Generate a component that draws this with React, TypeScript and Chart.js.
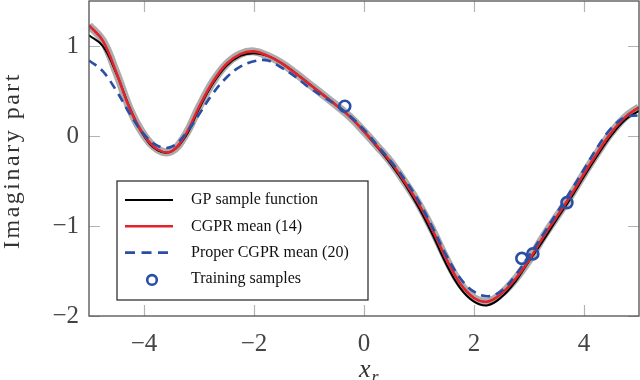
import React, { useEffect, useRef } from "react";
import { Chart, registerables } from "chart.js";

Chart.register(...registerables);

// ---- data ----
const xGrid = [
  -5, -4.75, -4.5, -4.25, -4, -3.75, -3.5, -3.25, -3, -2.75, -2.5, -2.25, -2, -1.75, -1.5, -1.25, -1, -0.75, -0.5, -0.25,
  0, 0.25, 0.5, 0.75, 1, 1.25, 1.5, 1.75, 2, 2.25, 2.5, 2.75, 3, 3.25, 3.5, 3.75, 4, 4.25, 4.5, 4.75, 5,
];
const gpSample = [
  1.12, 1.0, 0.69, 0.3, 0.0, -0.16, -0.17, -0.01, 0.3, 0.58, 0.78, 0.89, 0.92, 0.89, 0.81, 0.7, 0.58, 0.46, 0.34, 0.21,
  0.05, -0.13, -0.32, -0.54, -0.8, -1.1, -1.43, -1.69, -1.84, -1.88, -1.79, -1.62, -1.39, -1.17, -0.93, -0.7, -0.45, -0.21, 0.01, 0.18, 0.28,
];
const cgprMean = [
  1.23, 1.06, 0.7, 0.29, 0.01, -0.15, -0.17, 0.01, 0.32, 0.6, 0.8, 0.91, 0.94, 0.89, 0.81, 0.7, 0.58, 0.46, 0.34, 0.21,
  0.05, -0.12, -0.3, -0.52, -0.76, -1.05, -1.37, -1.64, -1.8, -1.84, -1.75, -1.59, -1.38, -1.13, -0.9, -0.67, -0.42, -0.18, 0.04, 0.21, 0.32,
];
const properMean = [
  0.84, 0.72, 0.5, 0.24, 0.02, -0.11, -0.12, 0.02, 0.24, 0.47, 0.65, 0.77, 0.83, 0.84, 0.76, 0.66, 0.54, 0.44, 0.34, 0.22,
  0.07, -0.11, -0.29, -0.49, -0.73, -1.02, -1.33, -1.58, -1.73, -1.78, -1.72, -1.55, -1.33, -1.1, -0.86, -0.62, -0.37, -0.12, 0.09, 0.21, 0.23,
];
const trainX = [-0.35, 2.87, 3.07, 3.69];
const trainY = [0.33, -1.36, -1.31, -0.74];

const xTickValues = [-4, -2, 0, 2, 4];
const yTickValues = [-2, -1, 0, 1];
const seriesLabels = ["GP sample function", "CGPR mean (14)", "Proper CGPR mean (20)", "Training samples"];
const yTitle = "Imaginary part";
const xTitleMain = "x";
const xTitleSub = "r";

// ---- styles ----
const SERIF = '"Liberation Serif", "Times New Roman", serif';
const RED = "#e3232b";
const BLUE = "#2a4ea6";
const BAND = "#acacac";

const fmt = (v: number) => (v < 0 ? "\u2212" + Math.abs(v) : String(v));
const pts = (ys: number[]) => xGrid.map((x, i) => ({ x, y: ys[i] }));

const decorPlugin = {
  id: "decor",
  beforeDatasetsDraw(chart: any) {
    const { ctx, chartArea: a, scales } = chart;
    ctx.save();
    ctx.strokeStyle = "#b4b4b4";
    ctx.lineWidth = 1.2;
    const L = 11;
    ctx.beginPath();
    xTickValues.forEach((v) => {
      const p = Math.round(scales.x.getPixelForValue(v)) + 0.5;
      ctx.moveTo(p, a.bottom);
      ctx.lineTo(p, a.bottom - L);
      ctx.moveTo(p, a.top);
      ctx.lineTo(p, a.top + L);
    });
    yTickValues.forEach((v) => {
      const p = Math.round(scales.y.getPixelForValue(v)) + 0.5;
      ctx.moveTo(a.left, p);
      ctx.lineTo(a.left + L, p);
      ctx.moveTo(a.right, p);
      ctx.lineTo(a.right - L, p);
    });
    ctx.stroke();
    ctx.restore();
  },
  afterDatasetsDraw(chart: any) {
    const { ctx, chartArea: a } = chart;
    ctx.save();
    ctx.strokeStyle = "#505050";
    ctx.lineWidth = 1.3;
    ctx.strokeRect(a.left, a.top, a.right - a.left, a.bottom - a.top);
    ctx.restore();
  },
  afterDraw(chart: any) {
    const { ctx, chartArea: a } = chart;
    ctx.save();
    // legend
    const boxL = a.left + 28;
    const boxT = a.top + 180;
    const boxW = 251;
    const boxH = 119;
    ctx.fillStyle = "#ffffff";
    ctx.fillRect(boxL, boxT, boxW, boxH);
    ctx.strokeStyle = "#222";
    ctx.lineWidth = 1.2;
    ctx.strokeRect(boxL, boxT, boxW, boxH);
    const dss = chart.data.datasets;
    seriesLabels.forEach((lab, i) => {
      const ds = dss.find((d: any) => d.label === lab);
      if (!ds) return;
      const y = boxT + 19 + i * 26.3;
      if (ds.showLine === false) {
        ctx.beginPath();
        ctx.setLineDash([]);
        ctx.strokeStyle = ds.pointBorderColor;
        ctx.lineWidth = ds.pointBorderWidth;
        ctx.arc(boxL + 35, y + 1, 4.8, 0, Math.PI * 2);
        ctx.stroke();
      } else {
        ctx.beginPath();
        ctx.setLineDash(ds.borderDash ? [10, 6.5] : []);
        ctx.strokeStyle = ds.borderColor;
        ctx.lineWidth = ds.borderWidth;
        ctx.moveTo(boxL + 8, y);
        ctx.lineTo(boxL + 56, y);
        ctx.stroke();
      }
      ctx.setLineDash([]);
      ctx.fillStyle = "#111";
      ctx.font = `16px ${SERIF}`;
      ctx.textAlign = "left";
      ctx.textBaseline = "middle";
      ctx.fillText(lab, boxL + 74, y);
    });
    // y title
    ctx.save();
    ctx.translate(13, (a.top + a.bottom) / 2 + 2);
    ctx.rotate(-Math.PI / 2);
    ctx.fillStyle = "#333";
    ctx.font = `24px ${SERIF}`;
    (ctx as any).letterSpacing = "2.5px";
    ctx.textAlign = "center";
    ctx.textBaseline = "middle";
    ctx.fillText(yTitle, 0, 0);
    ctx.restore();
    // x title
    ctx.fillStyle = "#333";
    ctx.textAlign = "left";
    ctx.textBaseline = "alphabetic";
    ctx.font = `italic 26px ${SERIF}`;
    const cx = (a.left + a.right) / 2;
    ctx.fillText(xTitleMain, cx - 5, 377);
    const w = ctx.measureText(xTitleMain).width;
    ctx.font = `italic 18px ${SERIF}`;
    ctx.fillText(xTitleSub, cx - 5 + w + 1, 383);
    ctx.restore();
  },
};

export default function App() {
  const ref = useRef<HTMLCanvasElement>(null);
  useEffect(() => {
    document.body.style.margin = "0";
    if (!ref.current) return;
    const lineCommon = { pointRadius: 0, tension: 0.4 };
    const chart = new Chart(ref.current, {
      type: "line",
      data: {
        datasets: [
          {
            label: seriesLabels[3],
            data: trainX.map((x, i) => ({ x, y: trainY[i] })),
            showLine: false,
            pointRadius: 5.5,
            pointBorderWidth: 2.6,
            pointBorderColor: BLUE,
            pointBackgroundColor: "rgba(255,255,255,0)",
            borderColor: BLUE,
          },
          {
            label: seriesLabels[2],
            data: pts(properMean),
            borderColor: BLUE,
            borderWidth: 2.6,
            borderDash: [9, 6],
            ...lineCommon,
          },
          {
            label: seriesLabels[1],
            data: pts(cgprMean),
            borderColor: RED,
            borderWidth: 2.6,
            ...lineCommon,
          },
          {
            label: seriesLabels[0],
            data: pts(gpSample),
            borderColor: "#000000",
            borderWidth: 2,
            ...lineCommon,
          },
          {
            label: "band",
            data: pts(cgprMean),
            borderColor: BAND,
            borderWidth: 8,
            ...lineCommon,
          },
        ] as any,
      },
      options: {
        responsive: false,
        animation: false,
        events: [],
        layout: { autoPadding: false, padding: { top: 1, right: 1, left: 0, bottom: 0 } },
        plugins: { legend: { display: false }, tooltip: { enabled: false } },
        scales: {
          x: {
            type: "linear",
            min: -5,
            max: 5,
            grid: { display: false },
            border: { display: false },
            afterBuildTicks: (s: any) => {
              s.ticks = xTickValues.map((v) => ({ value: v }));
            },
            afterFit: (s: any) => {
              s.height = 64;
              s.paddingLeft = 0;
              s.paddingRight = 0;
            },
            ticks: {
              padding: 5,
              color: "#444",
              font: { family: SERIF, size: 25 },
              maxRotation: 0,
              callback: (v: any) => fmt(Number(v)),
            },
          },
          y: {
            type: "linear",
            min: -2,
            max: 1.5,
            grid: { display: false },
            border: { display: false },
            afterBuildTicks: (s: any) => {
              s.ticks = yTickValues.map((v) => ({ value: v }));
            },
            afterFit: (s: any) => {
              s.width = 89;
              s.paddingTop = 0;
              s.paddingBottom = 0;
            },
            ticks: {
              padding: 2,
              color: "#444",
              font: { family: SERIF, size: 25 },
              callback: (v: any) => fmt(Number(v)),
            },
          },
        },
      },
      plugins: [decorPlugin],
    });
    return () => chart.destroy();
  }, []);
  return (
    <div style={{ width: 640, height: 380 }}>
      <canvas ref={ref} width={640} height={380} style={{ display: "block" }} />
    </div>
  );
}
